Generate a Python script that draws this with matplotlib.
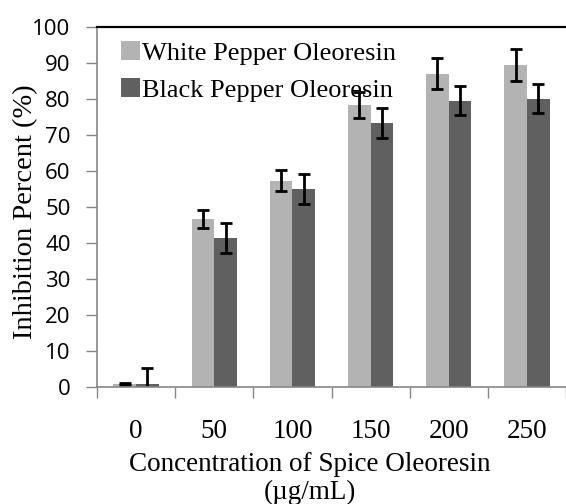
import numpy as np
import matplotlib
matplotlib.use('Agg')
import matplotlib.pyplot as plt

# ── Data ──────────────────────────────────────────────────────
concentrations = ['0', '50', '100', '150', '200', '250']
white_vals = [1.0, 46.8, 57.3, 78.4, 87.0, 89.4]
white_err = [0.3, 2.5, 2.9, 3.6, 4.3, 4.5]
black_vals = [1.0, 41.5, 55.1, 73.4, 79.5, 80.1]
black_err = [4.3, 4.2, 4.1, 4.1, 4.0, 4.1]
yticks = [0, 10, 20, 30, 40, 50, 60, 70, 80, 90, 100]

serif = 'Liberation Serif'
sans = 'Open Sans'
grey_axis = '#868686'

fig = plt.figure(figsize=(5.66, 5.04), dpi=100)
ax = fig.add_axes([0.1714, 0.2315, 0.8286, 0.715])

x = np.arange(len(concentrations))
w = 0.29
ax.bar(x - w / 2, white_vals, w, color='#B3B3B3', label='White Pepper Oleoresin')
ax.bar(x + w / 2, black_vals, w, color='#606060', label='Black Pepper Oleoresin')
for xs, v, e in [(x - w / 2, white_vals, white_err), (x + w / 2, black_vals, black_err)]:
    ax.errorbar(xs, v, yerr=e, fmt='none', ecolor='black', elinewidth=2,
                capsize=4.5, capthick=2)

ax.set_xlim(-0.5, len(concentrations) - 0.5)
ax.set_ylim(0, 100)
ax.set_yticks(yticks)
ax.set_yticklabels([str(t) for t in yticks], family=sans, fontsize=16)
ax.set_xticks(x)
ax.set_xticklabels(concentrations, family=serif, fontsize=19.5)
ax.set_xticks(np.arange(len(concentrations) + 1) - 0.5, minor=True)

ax.tick_params(axis='x', which='major', length=0, pad=23)
ax.tick_params(axis='x', which='minor', length=8, width=1, color=grey_axis, direction='out')
ax.tick_params(axis='y', length=8, width=1, color=grey_axis, direction='out', pad=11)

for s in ['left', 'bottom']:
    ax.spines[s].set_color(grey_axis)
    ax.spines[s].set_linewidth(1.2)
ax.spines['right'].set_visible(False)
ax.spines['top'].set_color('black')
ax.spines['top'].set_linewidth(1.6)

ax.set_ylabel('Inhibition Percent (%)', family=serif, fontsize=20.5)
ax.yaxis.label.set_va('center')
ax.yaxis.set_label_coords(-71 / 469, 0.488)

ax.set_xlabel('Concentration of Spice Oleoresin\n(µg/mL)', family=serif,
              fontsize=19.5, linespacing=1.12)
ax.xaxis.label.set_va('center')
ax.xaxis.set_label_coords((310 - 97) / 469, -(478 - 387) / 360)

leg = ax.legend(loc='upper left', bbox_to_anchor=(0.011, 1.012), frameon=False,
                prop={'family': serif, 'size': 19},
                handlelength=0.72, handleheight=0.72, handletextpad=0.08,
                labelspacing=0.5, borderaxespad=0.3)

fig.savefig('out.png', dpi=100)
